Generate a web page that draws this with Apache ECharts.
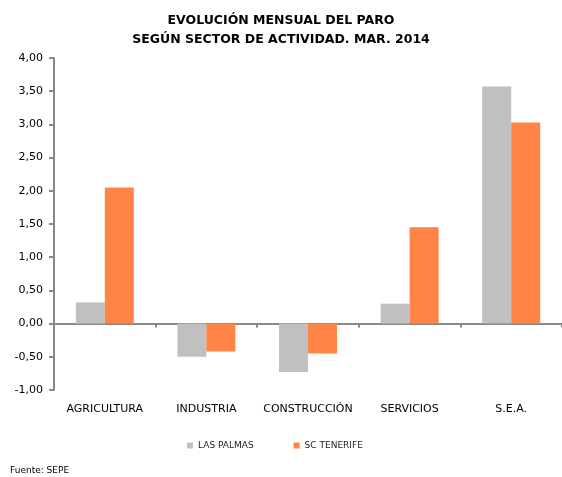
<!DOCTYPE html>
<html>
<head>
<meta charset="utf-8">
<script src="https://cdn.jsdelivr.net/npm/echarts@6/dist/echarts.min.js"></script>
<style>
  html, body { margin: 0; padding: 0; background: #fff; }
  #paroChart { width: 562px; height: 477px; }
</style>
</head>
<body>
<div id="paroChart"></div>
<script>
/* 分类 */
var categories = ['AGRICULTURA', 'INDUSTRIA', 'CONSTRUCCIÓN', 'SERVICIOS', 'S.E.A.'];

/* 系列数值 */
var lasPalmas = [0.32, -0.50, -0.73, 0.30, 3.57];
var scTenerife = [2.05, -0.42, -0.45, 1.45, 3.03];

var seriesNames = ['LAS PALMAS', 'SC TENERIFE'];
var fontName = 'DejaVu Sans';

var chart = echarts.init(document.getElementById('paroChart'));
var option = {
    backgroundColor: '#fff',
    animation: false,
    title: {
        text: 'EVOLUCIÓN MENSUAL DEL PARO\nSEGÚN SECTOR DE ACTIVIDAD. MAR. 2014',
        left: 'center',
        top: 6,
        textStyle: {
            fontFamily: fontName,
            fontSize: 12.5,
            fontWeight: 'bold',
            color: '#000',
            lineHeight: 19
        }
    },
    legend: {
        data: seriesNames,
        bottom: 22,
        left: 182,
        itemWidth: 6,
        itemHeight: 6,
        itemGap: 40,
        icon: 'rect',
        textStyle: { fontFamily: fontName, fontSize: 9, color: '#222' }
    },
    graphic: [{
        type: 'text',
        left: 10,
        top: 466,
        style: { text: 'Fuente: SEPE', font: '9px ' + fontName, fill: '#000' }
    }],
    grid: {
        left: 54,
        top: 58,
        width: 515,
        height: 332
    },
    xAxis: [
        {
            type: 'category',
            data: categories,
            axisLine: { onZero: true, lineStyle: { color: '#888', width: 2 } },
            axisTick: { show: true, interval: 0, length: 4, lineStyle: { color: '#888', width: 2 } },
            axisLabel: { show: false }
        },
        {
            type: 'category',
            data: categories,
            position: 'bottom',
            axisLine: { show: false },
            axisTick: { show: false },
            axisLabel: {
                interval: 0,
                margin: 14,
                fontFamily: fontName,
                fontSize: 11,
                color: '#000'
            }
        }
    ],
    yAxis: {
        type: 'value',
        min: -1,
        max: 4,
        interval: 0.5,
        splitLine: { show: false },
        axisLine: { show: true, lineStyle: { color: '#888', width: 2 } },
        axisTick: { show: true, length: 5, lineStyle: { color: '#888', width: 2 } },
        axisLabel: {
            margin: 11,
            fontFamily: fontName,
            fontSize: 11,
            color: '#000',
            formatter: function (v) {
                return v.toFixed(2).replace('.', ',');
            }
        }
    },
    series: [
        {
            name: seriesNames[0],
            type: 'bar',
            data: lasPalmas,
            barWidth: 29,
            barGap: '0%',
            itemStyle: { color: '#C0C0C0' }
        },
        {
            name: seriesNames[1],
            type: 'bar',
            data: scTenerife,
            barWidth: 29,
            barGap: '0%',
            itemStyle: { color: '#FF8445' }
        }
    ]
};
chart.setOption(option, true);
</script>
</body>
</html>
